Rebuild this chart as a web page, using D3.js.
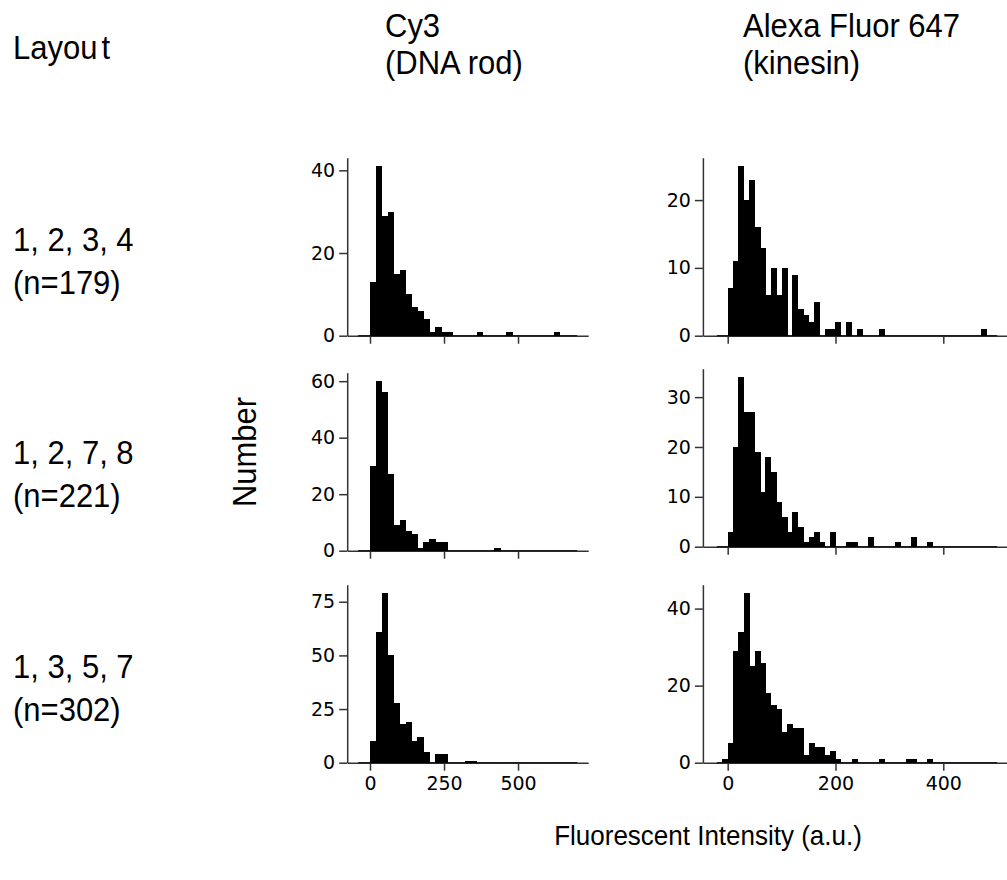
<!DOCTYPE html>
<html>
<head>
<meta charset="utf-8">
<script src="https://cdn.jsdelivr.net/npm/d3@7"></script>
<style>
  body { margin: 0; background: #fff; }
  .lbl { font-family: "Liberation Sans", Arial, sans-serif; fill: #000; }
  .tick text { font-family: "DejaVu Sans", sans-serif; font-size: 19px; fill: #000; }
  .domain, .tick line { stroke: #333; stroke-width: 1.5; }
</style>
</head>
<body>
<div id="chart"></div>
<script>
// histogram bins
let cy3Start = -40, cy3Width = 20     // 37 bins, -40 .. 700
let afStart = -20, afWidth = 10       // 52 bins, -20 .. 500

// Cy3 (DNA rod) counts
let cy3_1234 = [0,0,13,41,29,30,15,16,10,7, 6,4,1,2,1,1,0,0,0,0, 1,0,0,0,0,1,0,0,0,0, 0,0,0,1,0,0,0]
let cy3_1278 = [0,0,30,60,56,27,9,11,7,6, 1,3,4,3,3,0,0,0,0,0, 0,0,0,1,0,0,0,0,0,0, 0,0,0,0,0,0,0]
let cy3_1357 = [0,0,10,61,79,50,28,18,19,10, 12,5,0,4,4,0,0,0,1,1, 0,0,0,0,0,0,0,0,0,0, 0,0,0,0,0,0,0]

// Alexa Fluor 647 (kinesin) counts
let af_1234 = [0,0,7,11,25,20,23,16,13,6, 10,6,10,0,9,4,3,2,5,0, 1,1,2,0,2,0,1,0,0,0, 1,0,0,0,0,0,0,0,0,0, 0,0,0,0,0,0,0,0,0,1, 0,0]
let af_1278 = [0,0,3,20,34,27,27,19,11,18, 15,9,6,3,7,4,1,2,3,1, 0,3,0,0,1,1,0,0,2,0, 0,0,0,1,0,0,2,0,0,1, 0,0,0,0,0,0,0,0,0,0, 0,0]
let af_1357 = [0,1,5,29,34,44,25,29,26,18, 15,14,8,10,9,9,2,5,4,4, 2,3,1,0,0,1,0,0,0,0, 1,0,0,0,0,1,1,0,0,1, 0,0,0,0,0,0,0,0,0,0, 0,0]

let rowLabels = ['1, 2, 3, 4', '1, 2, 7, 8', '1, 3, 5, 7']
let rowN = ['(n=179)', '(n=221)', '(n=302)']
let cy3YTicks = [[0,20,40], [0,20,40,60], [0,25,50,75]]
let afYTicks = [[0,10,20], [0,10,20,30], [0,20,40]]
let cy3XTicks = [0, 250, 500]
let afXTicks = [0, 200, 400]

let svg = d3.select('#chart').append('svg')
    .attr('width', 1007).attr('height', 880)

// column layout (pixels) and x limits
let cols = [
  {x0: 347.2, x1: 588.2, dom: [-77, 737], start: cy3Start, w: cy3Width,
   data: [cy3_1234, cy3_1278, cy3_1357], yt: cy3YTicks, xt: cy3XTicks,
   bottoms: [335.7, 550.7, 762.7]},
  {x0: 702.9, x1: 1011.2, dom: [-46, 526], start: afStart, w: afWidth,
   data: [af_1234, af_1278, af_1357], yt: afYTicks, xt: afXTicks,
   bottoms: [335.7, 546.7, 762.7]}
]
let panelH = 178

cols.forEach(col => {
  let x = d3.scaleLinear().domain(col.dom).range([col.x0, col.x1])
  col.data.forEach((counts, r) => {
    let yb = col.bottoms[r]
    let y = d3.scaleLinear().domain([0, d3.max(counts) * 1.05]).range([yb, yb - panelH])
    let g = svg.append('g')

    g.append('g')
      .attr('transform', `translate(0,${yb})`)
      .call(d3.axisBottom(x).tickValues(col.xt).tickSize(8).tickSizeOuter(0).tickPadding(6)
        .tickFormat(r === 2 ? d3.format('d') : () => ''))

    g.append('g')
      .attr('transform', `translate(${col.x0},0)`)
      .call(d3.axisLeft(y).tickValues(col.yt[r]).tickSize(8).tickSizeOuter(0).tickPadding(4))

    // zero-height bins still leave their edge on the baseline
    g.append('line')
      .attr('x1', x(col.start)).attr('x2', x(col.start + col.w * counts.length))
      .attr('y1', y(0)).attr('y2', y(0))
      .attr('stroke', '#000').attr('stroke-width', 1)

    g.selectAll('rect')
      .data(counts)
      .enter()
      .append('rect')
      .attr('x', (d, i) => x(col.start + i * col.w))
      .attr('width', x(col.w) - x(0) + 0.6)
      .attr('y', d => y(d))
      .attr('height', d => y(0) - y(d))
      .attr('fill', '#000')
      .attr('shape-rendering', 'crispEdges')
  })
})

let text = (t, x, y, size) => svg.append('text').attr('class', 'lbl')
    .attr('transform', `translate(${x},${y}) scale(1,1.08)`)
    .style('font-size', size + 'px').text(t)

let lay = text('Layou', 13, 59, 31)
lay.append('tspan').attr('dx', 4).text('t')
text('Cy3', 385, 37, 31)
text('(DNA rod)', 385, 74, 31)
text('Alexa Fluor 647', 743, 37, 31)
text('(kinesin)', 743, 74, 31)

let rowBase = [250.7, 464, 677.5]
rowLabels.forEach((t, i) => {
  text(t, 13, rowBase[i], 31)
  text(rowN[i], 13, rowBase[i] + 43, 31)
})

svg.append('text').attr('class', 'lbl')
  .attr('transform', 'translate(256,452) rotate(-90) scale(1,1.08)')
  .attr('text-anchor', 'middle')
  .style('font-size', '31px')
  .text('Number')

svg.append('text').attr('class', 'lbl')
  .attr('transform', 'translate(708,845) scale(1,1.08)')
  .attr('text-anchor', 'middle')
  .style('font-size', '26px')
  .text('Fluorescent Intensity (a.u.)')
</script>
</body>
</html>
